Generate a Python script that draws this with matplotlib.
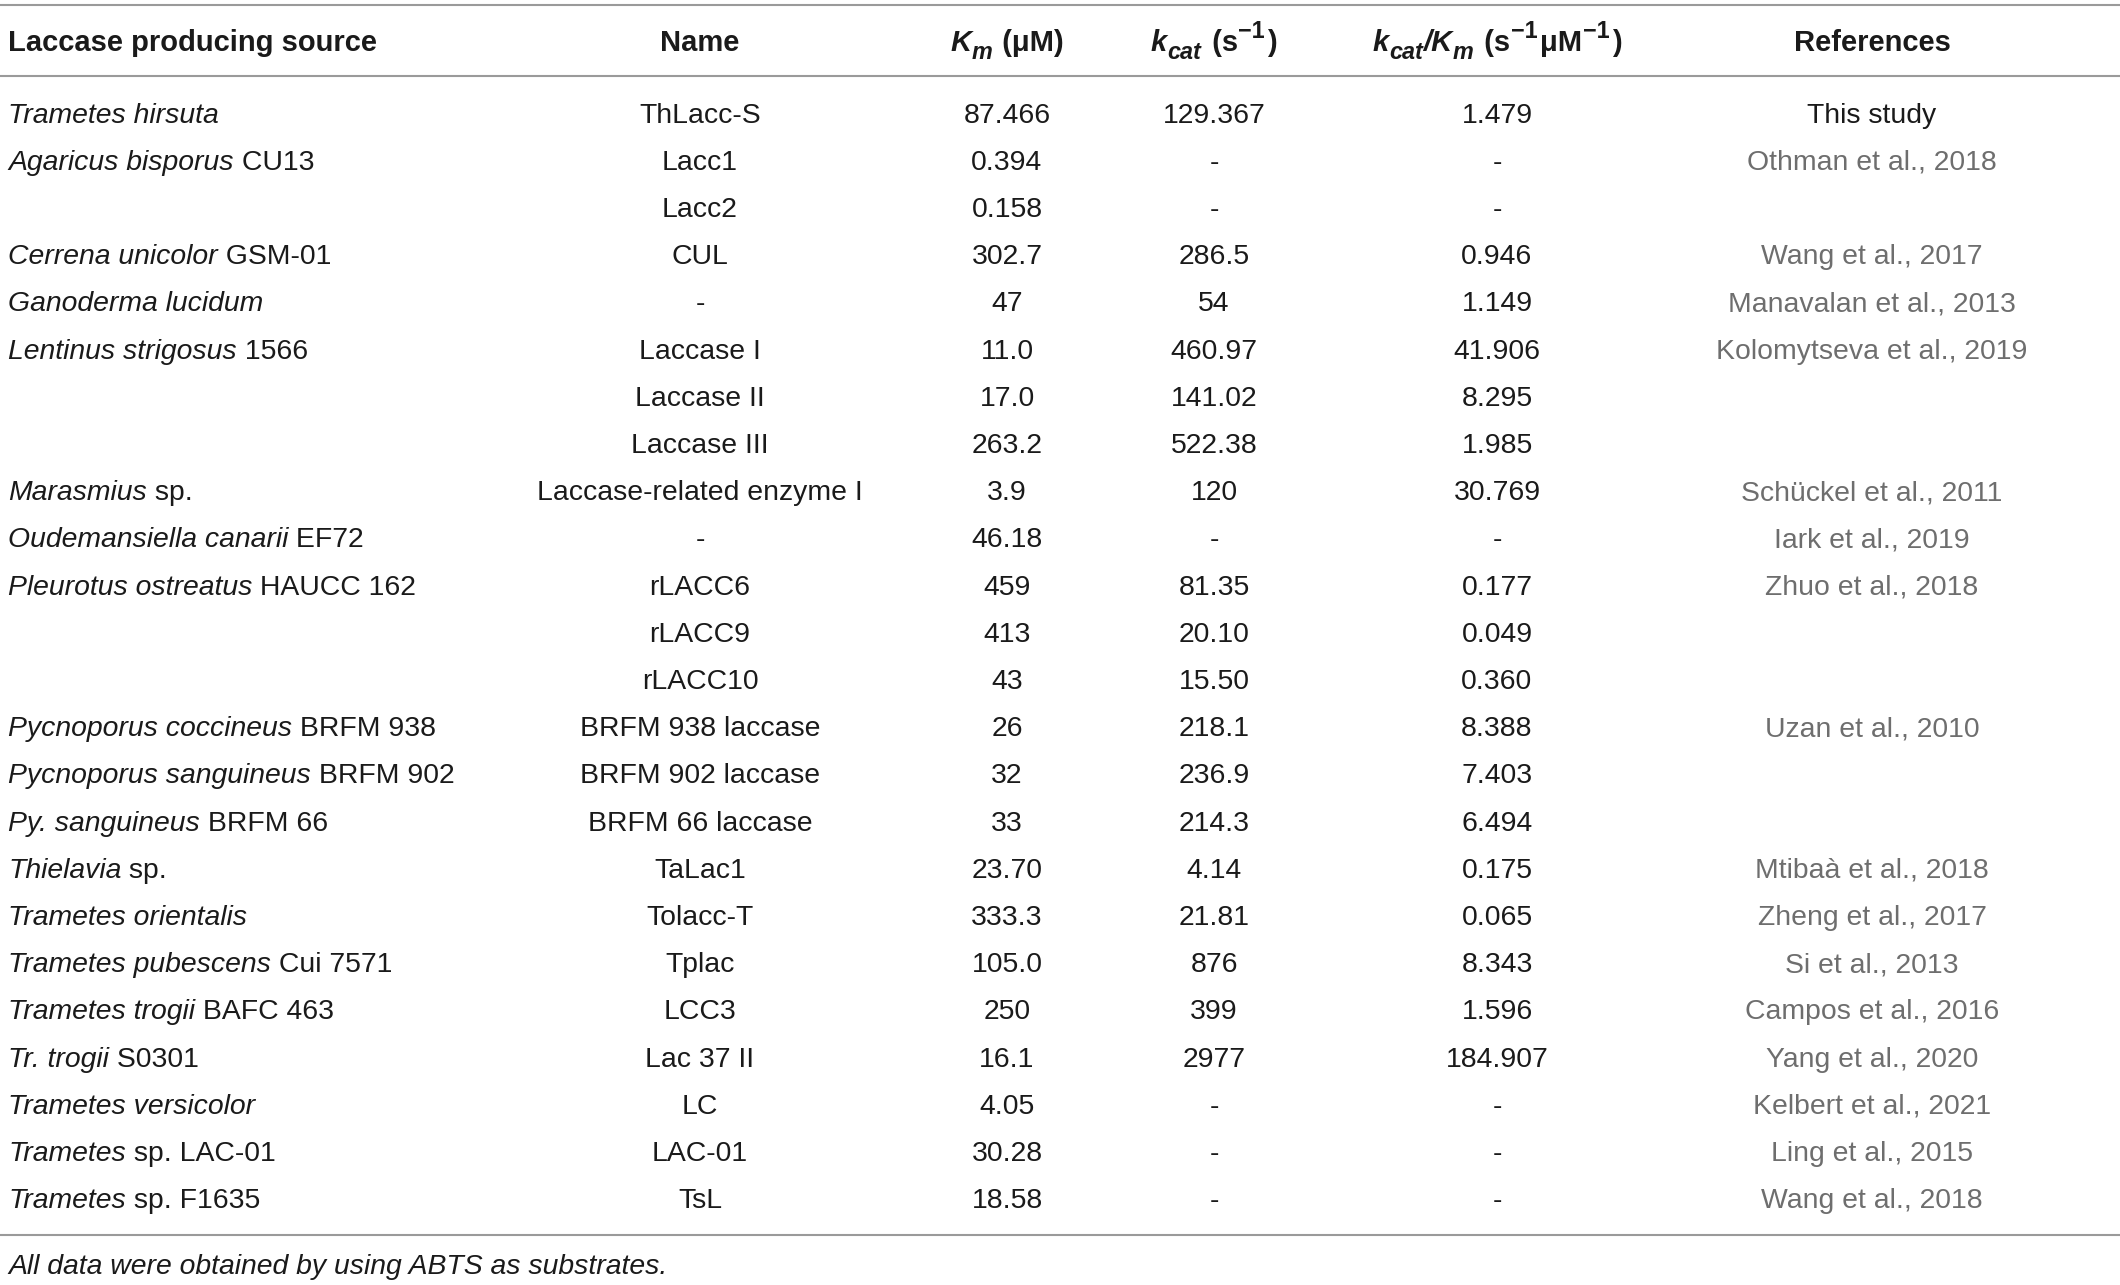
import matplotlib
matplotlib.use("Agg")
import matplotlib.pyplot as plt

# ---------------- data ----------------
source_italic = ["Trametes hirsuta", "Agaricus bisporus", "", "Cerrena unicolor", "Ganoderma lucidum",
                 "Lentinus strigosus", "", "", "Marasmius", "Oudemansiella canarii", "Pleurotus ostreatus",
                 "", "", "Pycnoporus coccineus", "Pycnoporus sanguineus", "Py. sanguineus", "Thielavia",
                 "Trametes orientalis", "Trametes pubescens", "Trametes trogii", "Tr. trogii",
                 "Trametes versicolor", "Trametes", "Trametes"]
source_plain = ["", " CU13", "", " GSM-01", "", " 1566", "", "", " sp.", " EF72", " HAUCC 162",
                "", "", " BRFM 938", " BRFM 902", " BRFM 66", " sp.", "", " Cui 7571", " BAFC 463",
                " S0301", "", " sp. LAC-01", " sp. F1635"]
names = ["ThLacc-S", "Lacc1", "Lacc2", "CUL", "-", "Laccase I", "Laccase II", "Laccase III",
         "Laccase-related enzyme I", "-", "rLACC6", "rLACC9", "rLACC10", "BRFM 938 laccase",
         "BRFM 902 laccase", "BRFM 66 laccase", "TaLac1", "Tolacc-T", "Tplac", "LCC3", "Lac 37 II",
         "LC", "LAC-01", "TsL"]
km = ["87.466", "0.394", "0.158", "302.7", "47", "11.0", "17.0", "263.2", "3.9", "46.18", "459",
      "413", "43", "26", "32", "33", "23.70", "333.3", "105.0", "250", "16.1", "4.05", "30.28", "18.58"]
kcat = ["129.367", "-", "-", "286.5", "54", "460.97", "141.02", "522.38", "120", "-", "81.35",
        "20.10", "15.50", "218.1", "236.9", "214.3", "4.14", "21.81", "876", "399", "2977", "-", "-", "-"]
kcat_km = ["1.479", "-", "-", "0.946", "1.149", "41.906", "8.295", "1.985", "30.769", "-", "0.177",
           "0.049", "0.360", "8.388", "7.403", "6.494", "0.175", "0.065", "8.343", "1.596", "184.907",
           "-", "-", "-"]
references = ["This study", "Othman et al., 2018", "", "Wang et al., 2017", "Manavalan et al., 2013",
              "Kolomytseva et al., 2019", "", "", "Schückel et al., 2011", "Iark et al., 2019",
              "Zhuo et al., 2018", "", "", "Uzan et al., 2010", "", "", "Mtibaà et al., 2018",
              "Zheng et al., 2017", "Si et al., 2013", "Campos et al., 2016", "Yang et al., 2020",
              "Kelbert et al., 2021", "Ling et al., 2015", "Wang et al., 2018"]
footnote = "All data were obtained by using ABTS as substrates."

# ---------------- layout ----------------
W, H = 2120, 1285
FONT = "Liberation Sans"
FS = 20.4          # body font size (pt)
HFS = 21.0         # header font size
TXT = "#1a1a1a"
REFC = "#6e6e6e"
LINEC = "#9a9a9a"

fig = plt.figure(figsize=(W / 100, H / 100), dpi=100)
ax = fig.add_axes([0, 0, 1, 1])
ax.set_xlim(0, W)
ax.set_ylim(H, 0)
ax.axis("off")
renderer = fig.canvas.get_renderer()

col_src = 8
col_name = 700
col_km = 1007
col_kcat = 1214
col_ratio = 1497
col_ref = 1872

y_header = 41
y_first = 112.5
row_step = 47.2
cap = 0.716 * FS * 100 / 72
hcap = 0.716 * HFS * 100 / 72


def seg_text(x, y, segs, ha="left", color=TXT, size=FS):
    """segs: list of (text, weight, style, scale, dy_em, gap_em)"""
    arts = []
    for t, w, st, sc, dy, gap in segs:
        a = ax.text(0, 0, t, fontsize=size * sc, fontweight=w, fontstyle=st,
                    family=FONT, color=color, va="baseline", ha="left")
        arts.append((a, dy, gap))
    px_em = size * 100 / 72
    widths = [a.get_window_extent(renderer).width + gap * px_em for a, dy, gap in arts]
    total = sum(widths)
    x0 = x - total / 2 if ha == "center" else x
    for (a, dy, gap), wdt in zip(arts, widths):
        a.set_position((x0, y - dy * px_em))
        x0 += wdt


# rules
for yy in [5, 76, 1235]:
    ax.plot([0, W], [yy, yy], color=LINEC, lw=1.5, solid_capstyle="butt")

# header
hb = y_header + hcap / 2
SUB, SUP, SC = -0.26, 0.45, 0.8
seg_text(col_src, hb, [("Laccase producing source", "bold", "normal", 1, 0, 0)], size=HFS)
seg_text(col_name, hb, [("Name", "bold", "normal", 1, 0, 0)], ha="center", size=HFS)
seg_text(col_km, hb, [("K", "bold", "italic", 1, 0, 0.02), ("m", "bold", "italic", SC, SUB, 0.05),
                      (" (μM)", "bold", "normal", 1, 0, 0)], ha="center", size=HFS)
seg_text(col_kcat, hb, [("k", "bold", "italic", 1, 0, 0.02), ("cat", "bold", "italic", SC, SUB, 0.08),
                        (" (s", "bold", "normal", 1, 0, 0.02), ("−1", "bold", "normal", SC, SUP, 0.08),
                        (")", "bold", "normal", 1, 0, 0)], ha="center", size=HFS)
seg_text(col_ratio, hb, [("k", "bold", "italic", 1, 0, 0.02), ("cat", "bold", "italic", SC, SUB, 0.02),
                         ("/K", "bold", "italic", 1, 0, 0.02), ("m", "bold", "italic", SC, SUB, 0.08),
                         (" (s", "bold", "normal", 1, 0, 0.02), ("−1", "bold", "normal", SC, SUP, 0.1),
                         ("μM", "bold", "normal", 1, 0, 0.02), ("−1", "bold", "normal", SC, SUP, 0.08),
                         (")", "bold", "normal", 1, 0, 0)], ha="center", size=HFS)
seg_text(col_ref, hb, [("References", "bold", "normal", 1, 0, 0)], ha="center", size=HFS)

# body
for i in range(len(names)):
    yb = y_first + i * row_step + cap / 2
    segs = []
    if source_italic[i]:
        segs.append((source_italic[i], "normal", "italic", 1, 0, 0))
    if source_plain[i]:
        segs.append((source_plain[i], "normal", "normal", 1, 0, 0))
    if segs:
        seg_text(col_src, yb, segs)
    ax.text(col_name, yb, names[i], ha="center", va="baseline", fontsize=FS, family=FONT, color=TXT)
    ax.text(col_km, yb, km[i], ha="center", va="baseline", fontsize=FS, family=FONT, color=TXT)
    ax.text(col_kcat, yb, kcat[i], ha="center", va="baseline", fontsize=FS, family=FONT, color=TXT)
    ax.text(col_ratio, yb, kcat_km[i], ha="center", va="baseline", fontsize=FS, family=FONT, color=TXT)
    if references[i]:
        c = TXT if references[i] == "This study" else REFC
        ax.text(col_ref, yb, references[i], ha="center", va="baseline", fontsize=FS, family=FONT, color=c)

ax.text(col_src, 1264 + cap / 2, footnote, ha="left", va="baseline", fontsize=FS,
        family=FONT, fontstyle="italic", color=TXT)

fig.savefig("out.png", dpi=100, facecolor="white")
